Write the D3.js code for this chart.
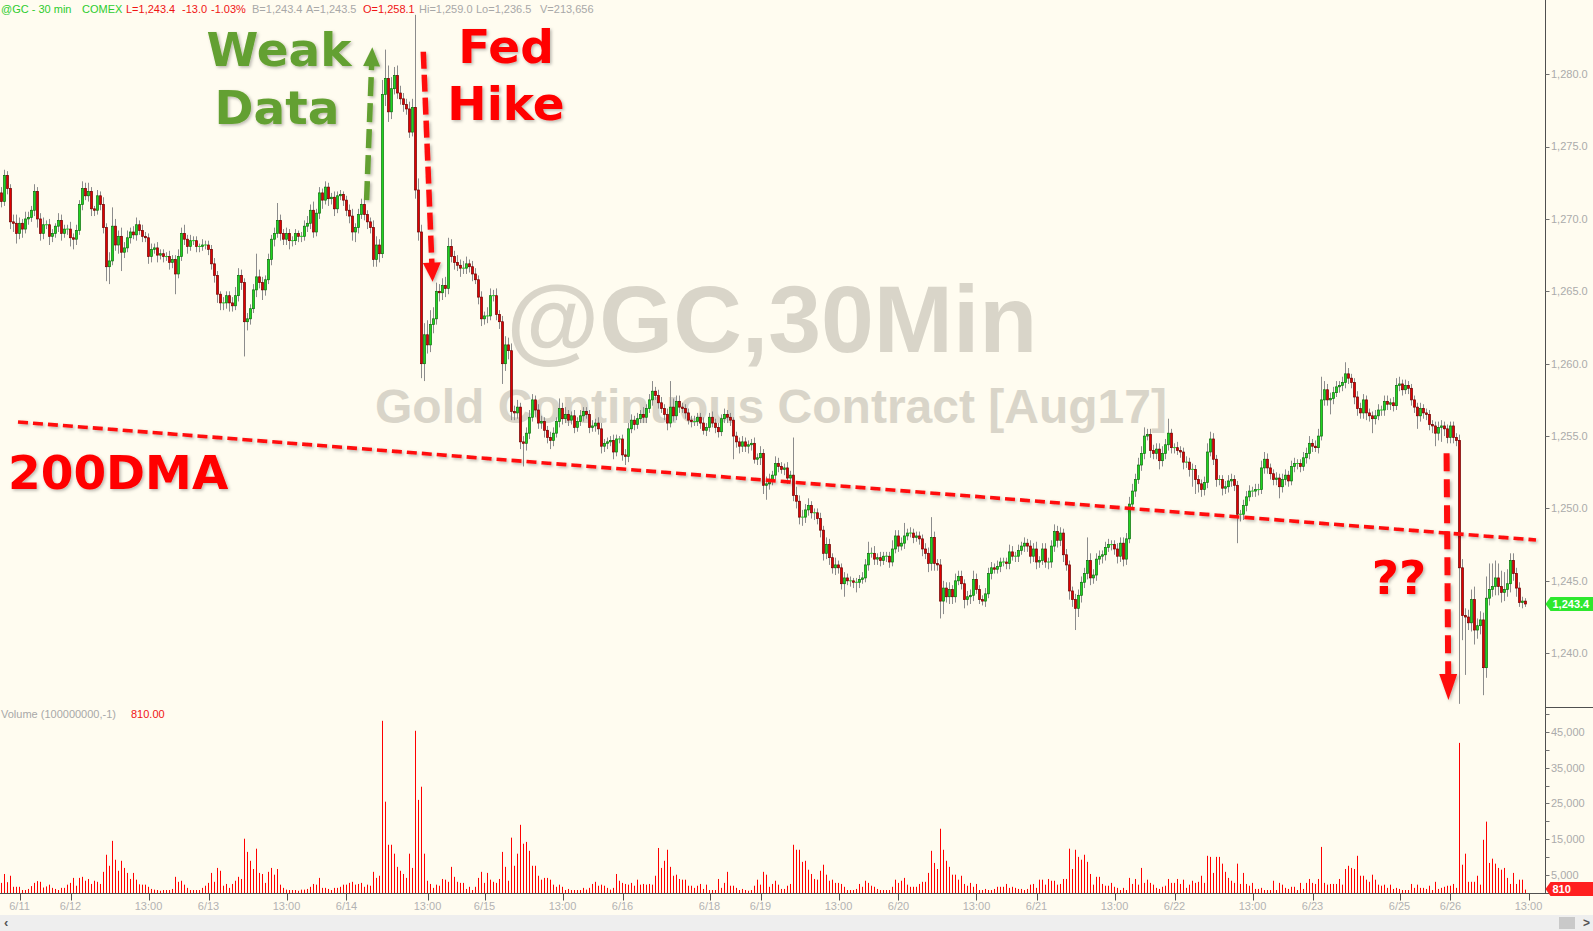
<!DOCTYPE html>
<html><head><meta charset="utf-8">
<script src="https://cdn.jsdelivr.net/npm/d3@7"></script>
<style>html,body{margin:0;padding:0;background:#fffcf0;overflow:hidden}</style>
</head><body><svg id="c" width="1593" height="931"></svg>
<script>
// ---------- DATA (30-minute bars) ----------
const firstOpen = 1271.8;
const closes = [
1271.2,1273.0,1272.1,1269.8,1269.7,1269.0,1269.7,1269.3,1270.0,1270.1,
1270.6,1271.9,1270.0,1269.0,1269.6,1269.6,1268.8,1269.0,1269.5,1269.9,
1269.0,1269.3,1269.3,1268.7,1268.6,1269.2,1271.0,1272.1,1271.6,1271.9,
1270.7,1270.6,1271.6,1271.0,1269.4,1266.7,1267.1,1269.5,1268.2,1268.8,
1267.7,1268.0,1268.7,1269.1,1268.9,1269.6,1269.2,1268.8,1268.7,1267.4,
1267.9,1268.0,1267.5,1267.6,1267.4,1267.4,1267.0,1267.2,1266.2,1267.4,
1269.0,1268.6,1268.1,1268.5,1268.5,1268.1,1268.1,1268.2,1268.2,1267.9,
1266.9,1266.1,1264.8,1264.2,1264.2,1264.7,1264.2,1264.0,1264.7,1266.1,
1265.6,1262.9,1263.1,1263.8,1265.1,1266.0,1265.6,1265.1,1265.8,1267.2,
1268.6,1269.0,1269.9,1269.0,1268.6,1269.0,1268.5,1268.5,1269.0,1268.8,
1268.8,1269.5,1269.7,1270.6,1269.1,1270.4,1271.8,1271.3,1272.2,1271.4,
1271.5,1270.7,1271.6,1271.7,1271.3,1270.6,1270.2,1269.1,1269.4,1270.3,
1271.0,1270.3,1269.8,1269.4,1267.2,1268.2,1267.6,1278.6,1279.7,1277.4,
1279.0,1279.9,1278.7,1278.3,1277.9,1277.6,1276.0,1277.7,1272.0,1269.1,
1260.0,1262.0,1261.3,1262.7,1263.1,1265.0,1264.9,1265.4,1265.2,1268.1,
1267.4,1267.0,1266.8,1266.6,1266.6,1266.9,1266.7,1266.2,1265.8,1264.6,
1263.1,1263.3,1263.3,1264.7,1264.7,1263.4,1262.9,1260.0,1261.3,1260.9,
1256.7,1256.6,1257.0,1254.6,1254.5,1255.2,1256.3,1257.5,1256.8,1255.9,
1256.0,1255.4,1254.9,1254.7,1255.2,1256.0,1256.9,1256.2,1256.5,1256.1,
1256.4,1255.6,1256.0,1256.4,1256.7,1256.5,1255.6,1255.7,1255.9,1255.5,
1254.3,1254.5,1254.6,1254.7,1253.9,1254.8,1254.8,1253.7,1253.6,1255.5,
1256.1,1255.8,1256.2,1256.5,1256.3,1256.9,1257.5,1258.1,1257.8,1257.3,
1256.9,1256.5,1255.9,1257.0,1256.4,1257.4,1257.0,1256.9,1256.6,1256.1,
1256.0,1256.0,1256.3,1255.9,1255.4,1255.6,1256.3,1255.9,1255.6,1255.3,
1256.2,1256.5,1256.3,1256.1,1255.0,1254.6,1254.3,1254.6,1254.3,1254.4,
1254.5,1253.4,1253.5,1253.8,1251.6,1251.7,1252.0,1252.3,1253.1,1252.9,
1252.7,1252.8,1252.1,1252.3,1250.9,1250.5,1249.4,1249.4,1249.9,1250.2,
1249.7,1249.7,1249.3,1248.5,1246.9,1247.5,1246.6,1245.9,1246.1,1245.9,
1244.8,1245.2,1245.0,1245.0,1244.9,1244.9,1245.1,1245.2,1246.1,1246.9,
1246.9,1246.5,1246.6,1246.4,1246.7,1246.7,1246.3,1247.2,1248.1,1247.4,
1247.6,1248.1,1248.3,1248.3,1248.0,1248.1,1247.9,1247.2,1246.9,1246.2,
1248.0,1246.2,1246.1,1243.6,1244.5,1243.9,1244.4,1243.9,1245.0,1245.3,
1244.8,1243.7,1243.9,1244.0,1245.1,1244.4,1243.7,1243.6,1244.1,1245.5,
1245.9,1245.8,1246.0,1246.3,1246.3,1246.2,1247.0,1246.7,1246.7,1247.1,
1247.4,1247.6,1247.4,1246.7,1247.2,1246.3,1246.4,1247.2,1246.3,1246.3,
1247.4,1248.4,1247.8,1248.3,1246.8,1246.1,1244.3,1243.7,1243.1,1244.0,
1244.9,1245.5,1246.4,1245.2,1245.4,1246.5,1246.7,1246.8,1247.3,1247.5,
1247.5,1247.2,1246.7,1247.6,1246.5,1247.9,1250.3,1251.2,1252.0,1253.0,
1253.8,1255.0,1255.1,1254.0,1253.8,1254.1,1253.3,1253.8,1254.4,1255.2,
1254.2,1254.2,1254.0,1253.9,1253.2,1253.2,1252.7,1252.7,1252.0,1251.7,
1251.3,1251.8,1253.9,1254.8,1253.4,1252.0,1252.0,1251.4,1251.5,1251.9,
1252.0,1251.6,1249.6,1249.6,1250.2,1250.8,1251.2,1251.2,1251.3,1251.3,
1252.8,1253.4,1252.8,1252.4,1252.0,1252.1,1251.5,1252.0,1252.3,1251.9,
1252.9,1253.1,1253.1,1252.9,1253.5,1253.8,1254.5,1254.3,1254.2,1255.0,
1257.5,1258.2,1257.5,1257.6,1258.0,1258.4,1258.5,1258.7,1259.3,1259.0,
1258.7,1257.7,1256.9,1256.6,1257.5,1256.6,1256.4,1256.2,1256.4,1256.8,
1256.8,1257.4,1257.2,1257.3,1257.1,1258.5,1258.6,1258.2,1258.5,1258.3,
1257.5,1257.0,1256.4,1256.9,1256.6,1256.5,1255.8,1255.7,1255.2,1255.6,
1255.7,1255.5,1254.9,1255.7,1254.9,1254.7,1245.9,1242.6,1242.5,1242.1,
1243.7,1241.6,1241.9,1242.3,1239.0,1243.8,1244.4,1244.6,1245.2,1244.6,
1244.2,1244.4,1244.8,1246.4,1245.5,1244.5,1243.5,1243.6,1243.4];
const wickUp = [
0.4,0.4,0.3,0.3,0.5,0.6,0.4,0.3,0.5,0.4, 0.3,0.5,0.3,0.4,0.5,0.3,0.4,0.3,0.2,0.5,
0.4,0.3,0.3,0.5,0.3,0.4,0.3,0.5,0.4,0.6, 0.3,0.2,0.4,0.3,0.5,0.3,0.6,1.3,0.5,0.4,
0.6,0.4,0.5,0.3,0.4,0.5,0.3,0.4,0.3,0.3, 0.4,0.3,0.4,0.3,0.3,0.3,0.4,0.3,0.3,0.5,
0.4,0.6,0.3,0.4,0.3,0.3,0.2,0.4,0.3,0.3, 0.3,0.4,0.3,0.2,0.4,0.3,0.3,0.4,0.6,0.5,
0.4,0.3,0.4,0.3,0.4,1.6,0.5,0.4,0.3,0.4, 0.3,0.4,1.2,0.4,0.3,0.4,0.3,0.3,0.3,0.2,
0.3,0.4,0.5,0.4,0.6,0.3,0.4,0.3,0.4,0.3, 0.3,0.4,0.3,0.3,0.2,0.3,0.4,0.5,0.3,0.4,
0.4,0.4,0.3,0.3,0.5,0.6,0.4,1.0,2.0,0.9, 0.8,0.6,0.7,0.5,0.4,0.4,0.5,0.6,6.4,0.8,
0.5,0.8,1.0,1.0,0.8,0.6,0.5,0.5,0.6,0.6, 0.5,0.4,0.5,0.4,0.5,0.5,0.3,0.4,0.4,0.3,
0.4,0.3,0.6,0.5,0.4,0.5,0.3,0.4,0.6,0.5, 0.5,0.4,0.5,0.3,0.4,0.4,0.5,0.4,0.3,0.4,
0.4,0.3,0.3,0.4,0.4,0.3,0.7,0.4,0.5,0.3, 0.3,0.4,0.3,0.4,0.3,0.3,0.3,0.4,0.3,0.4,
0.4,0.3,0.3,0.3,0.4,0.3,0.2,0.3,0.4,0.4, 0.4,0.3,0.4,0.3,0.5,0.3,0.4,0.7,0.3,0.4,
0.4,0.3,0.4,1.8,0.6,0.4,0.4,0.3,0.3,0.3, 0.3,0.4,0.3,0.3,0.4,0.3,0.3,0.4,0.3,0.3,
0.3,0.4,0.3,0.3,0.2,0.3,0.3,0.4,0.3,0.3, 0.3,0.4,0.3,0.5,0.3,0.5,0.4,0.3,0.5,0.4,
0.3,0.3,0.4,0.3,2.6,0.6,0.4,0.5,0.4,0.5, 0.3,0.3,0.3,0.4,0.3,0.5,0.4,0.3,0.5,0.3,
0.3,0.4,0.3,0.3,0.2,0.3,0.3,0.4,0.4,0.8, 0.4,0.5,0.3,0.4,0.3,0.3,0.3,0.6,0.4,0.4,
0.4,0.9,0.3,0.4,0.3,0.3,0.3,0.3,0.4,0.4, 1.4,0.4,0.3,0.4,0.5,0.4,0.5,0.3,0.5,0.4,
0.4,0.3,0.4,0.4,0.6,0.4,0.3,0.3,0.4,0.4, 0.4,0.3,0.4,0.3,0.3,0.3,0.5,0.4,0.3,0.4,
0.3,0.4,0.3,0.4,0.4,0.5,0.3,0.4,0.4,0.3, 0.4,0.5,0.4,0.4,0.3,0.4,0.3,0.3,0.4,0.4,
0.4,0.4,1.6,0.5,0.4,0.4,0.4,0.3,0.4,0.4, 0.3,0.3,0.4,0.4,0.4,0.4,0.5,0.5,0.4,0.5,
0.5,0.6,0.4,0.4,0.4,0.4,0.4,0.5,0.4,1.0, 0.3,0.3,0.4,0.3,0.3,0.4,0.3,0.4,0.3,0.3,
0.3,0.4,0.6,0.5,0.4,0.3,0.3,0.3,0.4,0.4, 0.4,0.3,0.3,0.3,0.4,0.4,0.4,0.3,0.4,0.4,
0.5,0.5,0.4,0.3,0.3,0.4,0.3,0.4,0.4,0.3, 0.4,0.4,0.3,0.3,0.4,0.4,0.5,0.3,0.4,0.5,
1.6,0.6,0.4,0.4,0.4,0.4,0.3,0.4,0.8,0.4, 0.3,0.3,0.4,0.4,0.4,0.3,0.3,0.3,0.4,0.4,
0.3,0.4,0.4,0.3,0.4,0.5,0.5,0.3,0.4,0.3, 0.3,0.3,0.3,0.4,0.3,0.3,0.3,0.3,0.3,0.4,
0.4,0.3,0.3,0.3,0.3,0.3,0.4,0.6,0.5,0.5, 0.7,0.9,0.5,0.6,0.5,1.5,1.8,1.6,1.2,1.0,
1.1,1.2,1.0,0.5,0.5,0.4,0.4,0.3,0.2];
const wickDown = [
0.4,0.3,0.4,0.5,0.6,0.7,0.4,0.6,0.3,0.4, 0.3,0.4,0.6,0.5,0.4,0.3,0.6,0.4,0.3,0.4,
0.5,0.3,0.4,0.6,0.7,0.4,0.3,0.4,0.3,0.4, 0.5,0.4,0.3,0.4,0.4,1.0,1.2,0.3,0.4,0.6,
1.3,0.4,0.3,0.4,0.3,0.4,0.3,0.4,0.3,0.5, 0.4,0.3,0.5,0.3,0.4,0.3,0.5,0.4,1.4,0.3,
0.3,0.4,0.5,0.3,0.3,0.4,0.4,0.3,0.3,0.4, 0.4,0.5,0.6,0.5,0.5,0.4,0.6,0.4,0.3,0.4,
0.5,2.4,0.6,0.4,0.3,0.5,0.4,0.7,0.4,0.3, 0.4,0.5,0.3,0.5,0.4,0.4,0.6,0.4,0.3,0.4,
0.4,0.3,0.4,0.4,0.4,0.3,0.4,0.6,0.3,0.5, 0.4,0.5,0.3,0.3,0.4,0.4,0.5,0.6,0.7,0.4,
0.3,0.4,0.5,0.4,0.5,0.5,0.6,0.3,0.8,0.7, 0.5,0.4,0.4,0.4,0.5,0.4,0.4,0.3,0.6,0.6,
1.0,1.2,0.6,0.5,0.6,0.4,0.6,0.5,0.6,0.4, 0.4,0.5,0.4,0.6,0.4,0.4,0.4,0.5,0.3,0.5,
0.5,0.4,0.5,0.3,0.4,0.4,0.5,1.4,0.5,0.6, 0.6,0.5,0.4,0.5,1.6,0.5,0.4,0.3,0.5,0.4,
0.4,0.5,0.4,0.6,0.4,0.3,0.4,0.4,0.3,0.4, 0.3,0.4,0.3,0.3,0.4,0.3,0.4,0.3,0.4,0.4,
0.5,0.4,0.4,0.3,0.5,0.3,0.3,0.4,0.6,0.4, 0.3,0.4,0.3,0.3,0.4,0.4,0.3,0.4,0.3,0.4,
0.3,0.4,0.5,0.3,0.4,0.3,0.4,0.3,0.4,0.3, 0.4,0.3,0.3,0.4,0.3,0.4,0.3,0.3,0.4,0.4,
0.3,0.3,0.4,0.4,1.6,0.4,0.5,0.4,0.4,0.5, 0.4,0.3,0.4,0.5,0.6,1.0,0.4,0.4,0.3,0.4,
0.3,0.4,0.4,0.3,0.4,0.5,0.5,0.6,0.4,0.4, 0.4,0.5,0.4,0.5,0.5,0.4,0.5,0.4,0.5,0.4,
0.4,0.9,0.3,0.4,0.4,0.7,0.4,0.3,0.3,0.4, 0.3,0.4,0.4,0.4,0.3,0.4,0.4,0.3,0.3,0.4,
0.3,0.4,0.3,0.3,0.4,0.3,0.4,0.5,0.4,0.6, 0.5,0.5,0.4,1.2,0.9,0.4,0.5,0.5,0.4,0.3,
0.4,0.6,0.4,0.5,0.4,0.3,0.3,0.3,0.4,0.3, 0.4,0.3,0.3,0.4,0.3,0.4,0.4,0.3,0.4,0.4,
0.3,0.4,0.4,0.5,0.4,0.5,0.4,0.3,0.4,0.5, 0.4,0.4,0.5,0.4,0.5,0.4,0.6,0.5,1.5,0.6,
0.5,0.4,0.4,0.5,0.4,0.4,0.4,0.5,0.4,0.3, 0.4,0.4,0.5,0.4,0.5,0.4,0.3,0.4,0.4,0.3,
0.4,0.4,0.3,0.5,0.4,0.4,0.6,0.4,0.4,0.4, 0.4,0.4,0.3,0.4,0.5,0.4,0.5,1.2,1.0,0.6,
0.5,0.4,0.4,0.3,0.4,0.5,0.4,0.5,0.4,0.4, 0.4,0.4,2.0,0.5,0.4,0.4,0.3,0.4,0.4,0.4,
0.3,0.4,0.4,0.4,0.4,0.4,0.8,0.4,0.4,0.4, 0.3,0.4,0.4,0.4,0.3,0.4,0.4,0.4,0.3,0.4,
0.3,0.4,0.4,1.0,0.4,0.3,0.4,0.4,0.4,0.4, 0.4,0.5,0.5,0.4,0.4,0.5,0.4,1.0,0.4,0.3,
0.4,0.4,0.4,0.4,0.4,0.3,0.4,0.4,0.3,0.4, 0.4,0.4,0.9,0.4,0.4,0.4,0.4,0.5,0.9,0.5,
1.0,0.5,0.4,0.4,0.4,0.4,9.4,1.7,4.0,0.5, 0.6,1.0,0.6,0.6,1.9,0.7,0.5,0.5,0.6,0.6,
0.7,0.6,0.5,0.6,0.5,0.6,0.3,0.4,0.2];
// volume in thousands of contracts
const volumeK = [
2.7,5.2,2.9,4.7,1.6,1.6,1.6,0.7,0.7,1.0, 1.8,2.7,3.2,3.0,1.4,1.7,2.2,1.3,1.0,0.7,
1.3,1.3,2.2,2.7,4.1,1.9,4.1,4.4,3.3,3.8, 2.4,3.3,3.0,2.4,5.8,10.6,7.5,14.5,9.2,6.1,
8.9,6.9,5.5,3.8,5.5,3.6,2.3,2.2,2.2,1.6, 1.0,0.8,0.7,0.5,0.7,0.7,0.7,1.0,4.4,3.0,
3.3,2.2,1.3,0.7,0.7,0.7,0.7,1.3,1.9,2.7, 5.5,3.0,6.9,6.1,1.9,2.4,1.3,2.4,3.3,4.4,
3.8,15.1,11.4,8.9,6.6,12.3,5.5,5.2,2.7,5.8, 6.9,5.0,6.6,2.2,1.3,0.8,0.7,0.7,0.7,0.5,
0.8,0.8,1.0,1.6,2.4,2.2,4.1,1.3,1.3,1.0, 0.7,1.3,1.3,1.6,2.2,2.2,2.7,3.0,2.2,2.4,
2.7,1.6,2.2,1.9,5.8,4.1,4.7,48.2,25.5,13.4, 13.4,10.9,7.2,6.1,5.2,4.1,10.9,6.9,45.4,26.0,
29.7,10.9,3.3,2.4,1.3,2.2,1.9,3.8,3.6,3.0, 7.2,4.4,3.0,2.7,2.7,1.0,1.6,0.7,1.6,4.1,
5.8,2.7,5.5,3.6,3.0,2.7,3.8,11.4,7.2,3.3, 15.4,7.5,10.9,19.0,13.7,14.2,11.7,7.5,7.5,4.7,
3.6,4.1,4.1,3.6,2.2,1.6,2.2,1.6,0.7,1.0, 0.7,0.7,0.7,0.7,1.3,0.8,1.3,2.4,3.0,1.9,
2.2,1.9,1.3,0.8,1.3,5.2,3.3,2.7,2.4,2.2, 2.7,1.9,3.6,2.2,2.4,2.2,2.4,2.2,4.7,12.5,
6.9,8.9,12.0,7.2,4.7,5.0,3.8,3.6,3.6,1.9, 1.9,1.3,1.9,2.4,1.0,2.2,0.7,0.7,0.7,3.8,
1.3,2.7,5.8,1.9,1.9,1.3,0.7,1.0,0.7,0.5, 0.7,1.9,3.6,2.2,5.8,5.0,1.6,2.4,3.3,2.2,
1.0,1.0,1.9,2.4,13.4,12.0,12.0,8.6,8.9,6.4, 5.2,3.8,3.6,6.1,7.8,5.0,3.3,3.6,2.7,2.7,
2.4,1.6,0.7,0.7,0.7,1.0,2.4,1.6,3.3,2.7, 1.9,1.6,1.0,0.7,0.7,0.7,0.7,1.6,3.6,2.7,
3.3,4.1,2.2,1.6,1.6,1.6,2.4,3.0,3.0,5.5, 11.7,8.3,6.6,17.9,12.0,8.9,7.2,5.0,5.0,3.6,
4.7,2.4,1.9,2.7,1.6,2.4,0.7,0.7,1.0,0.7, 0.7,1.0,1.6,1.6,1.6,2.4,1.3,1.6,1.3,1.0,
1.0,0.7,1.0,2.2,2.4,1.3,3.6,3.6,2.2,3.8, 3.3,3.3,2.2,2.4,3.8,3.8,12.3,6.6,12.0,10.0,
9.2,10.6,8.6,5.2,2.2,4.4,4.4,2.4,1.9,1.9, 2.7,1.6,1.3,0.7,1.3,0.7,4.1,2.4,3.8,2.2,
6.9,2.7,3.6,2.7,2.2,1.3,1.0,1.6,1.9,3.8, 2.7,2.7,3.8,2.4,3.6,1.3,2.2,3.3,2.7,3.0,
4.7,2.7,10.3,10.0,5.5,10.0,10.0,8.1,5.8,4.1, 3.3,2.7,8.1,2.4,5.5,2.4,1.9,2.7,1.0,1.0,
1.3,0.7,0.7,0.7,3.3,0.7,2.7,2.2,1.3,1.0, 1.6,1.6,0.7,2.7,1.0,2.7,3.8,2.7,2.4,3.8,
12.8,2.7,2.2,2.4,2.4,2.4,3.8,2.2,6.6,7.5, 6.9,6.6,10.3,4.7,4.7,3.6,3.0,5.0,3.6,2.2,
1.9,2.2,1.3,2.2,1.0,1.3,1.0,0.7,0.7,0.7, 2.4,1.3,2.2,1.3,1.3,1.0,1.9,0.7,3.0,1.0,
1.3,1.6,1.9,1.9,2.4,1.3,42.0,7.8,10.9,3.0, 3.0,3.0,4.7,2.2,14.8,19.9,8.3,9.5,8.1,6.9,
6.4,6.9,4.1,2.4,5.5,2.4,3.6,3.6,0.81];

const dateTickIdx = [6,23,49,69,95,115,142,161,187,207,236,253,279,299,325,345,371,391,417,437,466,483,509];
const dateTickLabels = ["6/11","6/12","13:00","6/13","13:00","6/14","13:00","6/15","13:00","6/16","6/18","6/19","13:00","6/20","13:00","6/21","13:00","6/22","13:00","6/23","6/25","6/26","13:00"];
const priceTicks = [1240,1245,1250,1255,1260,1265,1270,1275,1280];
const volTicksK = [5,10,15,20,25,30,35,40,45,50];
const volLabelK = [5,15,25,35,45];
const lastPrice = 1243.4, lastVolume = 810;
// annotations (bar index, price)
const dma200 = [{i:5.5,p:1255.97},{i:511.5,p:1247.82}];
const arrowWeak = [{i:121.7,p:1271.3},{i:123.6,p:1281.86}];
const arrowFed = [{i:140.6,p:1281.55},{i:143.7,p:1265.67}];
const arrowQ = [{i:481.7,p:1253.81},{i:482.3,p:1236.77}];

// ---------- DRAWING ----------
const svg = d3.select("#c");
const W = 1593, H = 931, axisX = 1545.5, baseY = 893.5;
const x = d3.scaleLinear().domain([0,508]).range([1.5,1525.5]);
const y = d3.scaleLinear().domain([1240,1280]).range([653.2,74.2]);
const yv = d3.scaleLinear().domain([0,45]).range([892.5,732.2]);
const ARIAL = "Arial, 'Liberation Sans', Helvetica, sans-serif";
const VERD = "Verdana, 'DejaVu Sans', sans-serif";

svg.append("rect").attr("width",W).attr("height",H).attr("fill","#fffcf0");
const defs = svg.append("defs");
const f = defs.append("filter").attr("id","sh").attr("filterUnits","userSpaceOnUse")
  .attr("x",0).attr("y",0).attr("width",W).attr("height",H);
f.append("feDropShadow").attr("dx",1.5).attr("dy",1.5).attr("stdDeviation",1.6)
  .attr("flood-color","#000").attr("flood-opacity",0.28);

// watermark
svg.append("text").attr("x",772).attr("y",352).attr("text-anchor","middle")
  .attr("font-family",ARIAL).attr("font-weight","bold").attr("font-size",95)
  .attr("fill","#d9d5c9").text("@GC,30Min");
svg.append("text").attr("x",771).attr("y",423).attr("text-anchor","middle")
  .attr("font-family",ARIAL).attr("font-weight","bold").attr("font-size",48)
  .attr("fill","#d9d5c9").text("Gold Continuous Contract [Aug17]");

// candles
const bars = closes.map((c,i)=>{
  const o = i===0 ? firstOpen : closes[i-1];
  return {i, o, c, h: Math.max(o,c)+wickUp[i], l: Math.min(o,c)-wickDown[i]};
});
const gC = svg.append("g");
gC.selectAll("line.w").data(bars).join("line").attr("class","w")
  .attr("x1",d=>x(d.i)).attr("x2",d=>x(d.i))
  .attr("y1",d=>y(d.h)).attr("y2",d=>y(d.l))
  .attr("stroke","#8c8c8c").attr("stroke-width",1);
gC.selectAll("rect.b").data(bars.filter(d=>Math.abs(d.c-d.o)>=0.05)).join("rect").attr("class","b")
  .attr("x",d=>x(d.i)-1.0).attr("width",2)
  .attr("y",d=>y(Math.max(d.o,d.c))).attr("height",d=>Math.max(0.8,Math.abs(y(d.o)-y(d.c))))
  .attr("fill",d=>d.c>d.o?"#1fd41f":"#e00000")
  .attr("stroke",d=>d.c>d.o?"#0b6f0b":"#6e0000").attr("stroke-width",0.7);
gC.selectAll("line.d").data(bars.filter(d=>Math.abs(d.c-d.o)<0.05)).join("line").attr("class","d")
  .attr("x1",d=>x(d.i)-1.5).attr("x2",d=>x(d.i)+1.5)
  .attr("y1",d=>y(d.c)).attr("y2",d=>y(d.c))
  .attr("stroke","#1fd41f").attr("stroke-width",1);

// volume
svg.append("g").selectAll("rect").data(volumeK).join("rect")
  .attr("x",(v,i)=>x(i)-0.5).attr("width",1)
  .attr("y",v=>yv(v)).attr("height",v=>baseY-yv(v))
  .attr("fill","#ff0000");

// axes lines
svg.append("line").attr("x1",0).attr("x2",W).attr("y1",baseY).attr("y2",baseY).attr("stroke","#505050");
svg.append("line").attr("x1",axisX).attr("x2",axisX).attr("y1",0).attr("y2",baseY).attr("stroke","#505050");
svg.append("line").attr("x1",axisX).attr("x2",W).attr("y1",707.5).attr("y2",707.5).attr("stroke","#505050");

// price axis
const gP = svg.append("g");
priceTicks.forEach(p=>{
  gP.append("line").attr("x1",axisX).attr("x2",axisX+4).attr("y1",Math.round(y(p))+0.5).attr("y2",Math.round(y(p))+0.5).attr("stroke","#707070");
  gP.append("text").attr("x",1551).attr("y",y(p)).attr("dy","0.35em")
    .attr("font-family",ARIAL).attr("font-size",11).attr("fill","#ababab")
    .text(d3.format(",.1f")(p));
});
// volume axis
volTicksK.forEach(v=>{
  gP.append("line").attr("x1",axisX).attr("x2",axisX+4).attr("y1",Math.round(yv(v))+0.5).attr("y2",Math.round(yv(v))+0.5).attr("stroke","#707070");
});
volLabelK.forEach(v=>{
  gP.append("text").attr("x",1551).attr("y",yv(v)).attr("dy","0.35em")
    .attr("font-family",ARIAL).attr("font-size",11).attr("fill","#ababab")
    .text(d3.format(",")(v*1000));
});
// last price tag
function tag(yc, color, label){
  const g = svg.append("g");
  g.append("path").attr("d",`M${axisX},${yc} L${axisX+5},${yc-7} L${W},${yc-7} L${W},${yc+7} L${axisX+5},${yc+7} Z`).attr("fill",color);
  g.append("text").attr("x",axisX+7).attr("y",yc).attr("dy","0.36em")
    .attr("font-family",ARIAL).attr("font-weight","bold").attr("font-size",11).attr("fill","#ffffff").text(label);
}
tag(y(lastPrice),"#2ee82e",d3.format(",.1f")(lastPrice));
tag(yv(lastVolume/1000)-0.5,"#ff2020",String(lastVolume));

// date axis
dateTickIdx.forEach((ti,k)=>{
  const xx = Math.round(x(ti))+0.5;
  svg.append("line").attr("x1",xx).attr("x2",xx).attr("y1",baseY).attr("y2",baseY+7).attr("stroke","#505050");
  svg.append("text").attr("x",x(ti)).attr("y",910).attr("text-anchor","middle")
    .attr("font-family",ARIAL).attr("font-size",11).attr("fill","#b3b3b3").text(dateTickLabels[k]);
});

// scroll bar
svg.append("rect").attr("x",0).attr("y",915).attr("width",W).attr("height",16).attr("fill","#eeeeee");
svg.append("rect").attr("x",1559).attr("y",917).attr("width",16).attr("height",12).attr("fill","#c9c9c9");
svg.append("text").attr("x",4).attr("y",927).attr("font-family",ARIAL).attr("font-size",13).attr("font-weight","bold").attr("fill","#555").text("‹");
svg.append("text").attr("x",1583).attr("y",927).attr("font-family",ARIAL).attr("font-size",12).attr("font-weight","bold").attr("fill","#555").text(">");

// header
const hdr = [
  [1,"@GC - 30 min","#2dcc2d"],[82,"COMEX","#2dcc2d"],
  [126,"L=1,243.4","#f01414"],[182,"-13.0","#f01414"],[211,"-1.03%","#f01414"],
  [252,"B=1,243.4","#a8a8a8"],[306,"A=1,243.5","#a8a8a8"],
  [363,"O=1,258.1","#f01414"],
  [419,"Hi=1,259.0","#a8a8a8"],[476,"Lo=1,236.5","#a8a8a8"],[540,"V=213,656","#a8a8a8"]
];
hdr.forEach(h=>svg.append("text").attr("x",h[0]).attr("y",12.5).attr("font-family",ARIAL)
  .attr("font-size",11).attr("fill",h[2]).text(h[1]));
svg.append("text").attr("x",1).attr("y",718).attr("font-family",ARIAL).attr("font-size",11).attr("fill","#a8a8a8").text("Volume (100000000,-1)");
svg.append("text").attr("x",131).attr("y",718).attr("font-family",ARIAL).attr("font-size",11).attr("fill","#f01414").text("810.00");

// annotations
const gA = svg.append("g").attr("filter","url(#sh)");
gA.append("line").attr("x1",x(dma200[0].i)).attr("y1",y(dma200[0].p))
  .attr("x2",x(dma200[1].i)).attr("y2",y(dma200[1].p))
  .attr("stroke","#ff1010").attr("stroke-width",3.6).attr("stroke-dasharray","10,5");
function arrow(a,color,w,dash,hl,hw){
  const x1=x(a[0].i), y1=y(a[0].p), x2=x(a[1].i), y2=y(a[1].p);
  const dx=x2-x1, dy=y2-y1, L=Math.hypot(dx,dy), ux=dx/L, uy=dy/L;
  const bx=x2-ux*hl, by=y2-uy*hl;
  gA.append("line").attr("x1",x1).attr("y1",y1).attr("x2",bx+ux*2).attr("y2",by+uy*2)
    .attr("stroke",color).attr("stroke-width",w).attr("stroke-dasharray",dash);
  gA.append("path").attr("d",`M${x2},${y2} L${bx-uy*hw/2},${by+ux*hw/2} L${bx+uy*hw/2},${by-ux*hw/2} Z`).attr("fill",color);
}
arrow(arrowWeak,"#64a030",5.5,"19,7",19,17);
arrow(arrowFed,"#ff1010",5.5,"17,6",19,18);
arrow(arrowQ,"#ff1010",6,"18,8",26,18);

const txt = [
  [279,66,"Weak","#64a030","middle"],[277,124,"Data","#64a030","middle"],
  [506,63,"Fed","#ff0000","middle"],[506,120,"Hike","#ff0000","middle"],
  [8,489,"200DMA","#ff0000","start"],[1399,594,"??","#ff0000","middle"]
];
txt.forEach(t=>gA.append("text").attr("x",t[0]).attr("y",t[1]).attr("text-anchor",t[4])
  .attr("font-family",VERD).attr("font-weight","bold").attr("font-size",47).attr("fill",t[3]).text(t[2]));
</script></body></html>
